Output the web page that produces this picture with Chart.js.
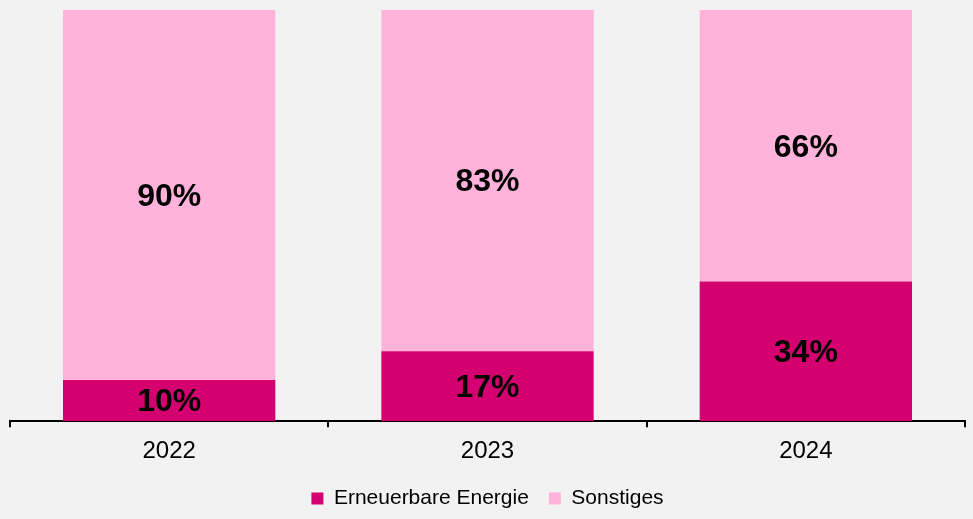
<!DOCTYPE html>
<html>
<head>
<meta charset="utf-8">
<script src="https://cdn.jsdelivr.net/npm/chart.js@4/dist/chart.umd.min.js"></script>
<style>
    html, body { margin: 0; padding: 0; background: #f2f2f2; overflow: hidden; }
    #wrap { width: 973px; height: 519px; }
</style>
</head>
<body>
<div id="wrap"><canvas id="barChart"></canvas></div>
<script>
const jahre = ["2022", "2023", "2024"];
const erneuerbar = [10, 17, 34];
const sonstiges = [90, 83, 66];

// Prozentwerte mittig in die Segmente schreiben
const labelPlugin = {
    id: "segmentLabels",
    afterDatasetsDraw(chart) {
        const ctx = chart.ctx;
        ctx.save();
        ctx.font = "bold 32px 'Liberation Sans', Arial, sans-serif";
        ctx.fillStyle = "#000";
        ctx.textAlign = "center";
        ctx.textBaseline = "middle";
        chart.data.datasets.forEach((ds, i) => {
            const meta = chart.getDatasetMeta(i);
            meta.data.forEach((bar, j) => {
                const y = (bar.y + bar.base) / 2;
                ctx.fillText(ds.data[j] + "%", bar.x, y + 2);
            });
        });
        ctx.restore();
    }
};

const bgPlugin = {
    id: "bg",
    beforeDraw(chart) {
        const ctx = chart.ctx;
        ctx.save();
        ctx.fillStyle = "#f2f2f2";
        ctx.fillRect(0, 0, chart.width, chart.height);
        ctx.restore();
    }
};

new Chart(document.getElementById("barChart"), {
    type: "bar",
    data: {
        labels: jahre,
        datasets: [
            {
                label: "Erneuerbare Energie",
                data: erneuerbar,
                backgroundColor: "#d4006f",
                barPercentage: 0.667,
                categoryPercentage: 1
            },
            {
                label: "Sonstiges",
                data: sonstiges,
                backgroundColor: "#ffb3db",
                barPercentage: 0.667,
                categoryPercentage: 1
            }
        ]
    },
    options: {
        responsive: true,
        maintainAspectRatio: false,
        animation: false,
        layout: { padding: { left: 10, right: 8, top: 10, bottom: 0 } },
        plugins: {
            legend: {
                position: "bottom",
                labels: {
                    color: "#000",
                    boxWidth: 12,
                    boxHeight: 12,
                    padding: 20,
                    font: { family: "'Liberation Sans', Arial, sans-serif", size: 21 }
                }
            },
            tooltip: { enabled: false }
        },
        scales: {
            x: {
                stacked: true,
                afterFit: (scale) => { scale.height -= 8; },
                grid: {
                    offset: true,
                    drawOnChartArea: false,
                    drawTicks: true,
                    tickLength: 6,
                    color: "#000",
                    lineWidth: 2
                },
                border: { color: "#000", width: 2 },
                ticks: {
                    color: "#000",
                    padding: 10,
                    font: { family: "'Liberation Sans', Arial, sans-serif", size: 24 }
                }
            },
            y: {
                stacked: true,
                display: false,
                min: 0,
                max: 100
            }
        }
    },
    plugins: [bgPlugin, labelPlugin]
});
</script>
</body>
</html>
